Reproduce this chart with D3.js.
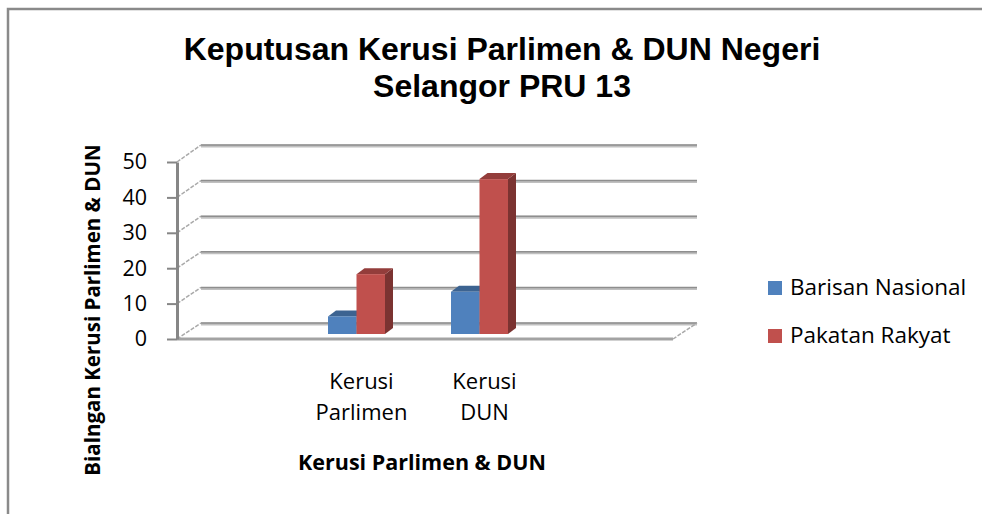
<!DOCTYPE html>
<html>
<head>
<meta charset="utf-8">
<script src="https://cdn.jsdelivr.net/npm/d3@7"></script>
<style>
  body { margin: 0; background: #fff; overflow: hidden; }
  svg { display: block; }
</style>
</head>
<body>
<div id="chart"></div>
<script>
// data (the source sheet had an empty column on each side)
const categories = ["", "Kerusi Parlimen", "Kerusi DUN", ""];
const seriesNames = ["Barisan Nasional", "Pakatan Rakyat"];
const barisanNasional = [null, 5, 12, null];
const pakatanRakyat = [null, 17, 44, null];
const yTicks = [0, 10, 20, 30, 40, 50];
const colors = ["#4F81BD", "#C0504D"];

const W = 982, H = 514;
const font = "'Open Sans', 'Noto Sans', sans-serif";

const svg = d3.select("#chart").append("svg")
    .attr("width", W)
    .attr("height", H);

// chart border (only left and top edges fall inside the picture)
svg.append("path")
    .attr("d", "M8," + H + "V9H" + W)
    .attr("fill", "none")
    .attr("stroke", "#8a8a8a")
    .attr("stroke-width", 2.5);

// title
svg.append("text")
    .attr("x", 502).attr("y", 60)
    .attr("text-anchor", "middle")
    .style("font-family", "'Liberation Sans', Arial, sans-serif")
    .style("font-weight", "bold")
    .style("font-size", "32px")
    .text("Keputusan Kerusi Parlimen & DUN Negeri");
svg.append("text")
    .attr("x", 502).attr("y", 97)
    .attr("text-anchor", "middle")
    .style("font-family", "'Liberation Sans', Arial, sans-serif")
    .style("font-weight", "bold")
    .style("font-size", "32px")
    .text("Selangor PRU 13");

// pseudo 3d: front plane, back wall and the plane the bars stand on
const depth = { dx: 24, dy: -16 };
const yFront = d3.scaleLinear().domain([0, 50]).range([339, 162]);
const yBack = d3.scaleLinear().domain([0, 50]).range([339 + depth.dy, 162 + depth.dy - 1]);
const yBar = d3.scaleLinear().domain([0, 50]).range([334, 158]);

const x = d3.scaleBand()
    .domain(d3.range(categories.length))
    .range([177, 669]);

const xSub = d3.scaleBand()
    .domain(seriesNames)
    .range([0, 57]);

const x0 = 177, x1 = 673;

// back wall gridlines
const grid = svg.append("g");
grid.selectAll(".gl")
    .data(yTicks)
    .enter()
    .append("line")
    .attr("x1", x0 + depth.dx).attr("x2", x1 + depth.dx)
    .attr("y1", d => yBack(d) + 1).attr("y2", d => yBack(d) + 1)
    .attr("stroke", "#c0c0c0")
    .attr("stroke-width", 3);
grid.selectAll(".gd")
    .data(yTicks)
    .enter()
    .append("line")
    .attr("x1", x0 + depth.dx).attr("x2", x1 + depth.dx)
    .attr("y1", d => yBack(d)).attr("y2", d => yBack(d))
    .attr("stroke", "#8e8e8e")
    .attr("stroke-width", 1.5);

// side wall gridlines
grid.selectAll(".sd")
    .data(yTicks)
    .enter()
    .append("line")
    .attr("x1", x0).attr("y1", d => yFront(d))
    .attr("x2", x0 + depth.dx).attr("y2", d => yBack(d))
    .attr("stroke", "#a9a9a9")
    .attr("stroke-width", 1.5)
    .attr("stroke-dasharray", "4,1.5");

// floor front and right edge
grid.append("line")
    .attr("x1", x0).attr("x2", x1)
    .attr("y1", yFront(0)).attr("y2", yFront(0))
    .attr("stroke", "#a3a3a3")
    .attr("stroke-width", 3);
grid.append("line")
    .attr("x1", x1).attr("y1", yFront(0))
    .attr("x2", x1 + depth.dx).attr("y2", yBack(0))
    .attr("stroke", "#a9a9a9")
    .attr("stroke-width", 1.5)
    .attr("stroke-dasharray", "4,1.5");

// bars
const bd = { dx: 8, dy: -6 };
const rows = [];
categories.forEach(function (c, i) {
    [barisanNasional, pakatanRakyat].forEach(function (s, k) {
        if (s[i] != null) rows.push({ i: i, k: k, value: s[i] });
    });
});

function barPos(d) {
    let left = x(d.i) + x.bandwidth() / 2 - 5 - xSub.bandwidth() + xSub(seriesNames[d.k]);
    return {
        l: left,
        r: left + xSub.bandwidth(),
        t: yBar(d.value),
        b: yBar(0)
    };
}

const bars = svg.append("g").selectAll("g")
    .data(rows)
    .enter()
    .append("g");

bars.append("path")
    .attr("d", function (d) {
        let p = barPos(d);
        return "M" + p.r + "," + p.t + "L" + (p.r + bd.dx) + "," + (p.t + bd.dy) +
            "L" + (p.r + bd.dx) + "," + (p.b + bd.dy) + "L" + p.r + "," + p.b + "Z";
    })
    .attr("fill", d => d3.color(colors[d.k]).darker(1.25));

bars.append("path")
    .attr("d", function (d) {
        let p = barPos(d);
        return "M" + p.l + "," + p.t + "L" + (p.l + bd.dx) + "," + (p.t + bd.dy) +
            "L" + (p.r + bd.dx) + "," + (p.t + bd.dy) + "L" + p.r + "," + p.t + "Z";
    })
    .attr("fill", d => d3.color(colors[d.k]).darker(0.75));

bars.append("rect")
    .attr("x", d => barPos(d).l)
    .attr("y", d => barPos(d).t)
    .attr("width", xSub.bandwidth())
    .attr("height", d => yBar(0) - yBar(d.value))
    .attr("fill", d => colors[d.k]);

// y axis
const yAxis = svg.append("g")
    .attr("transform", "translate(" + x0 + ",0)")
    .call(d3.axisLeft(yFront).tickValues(yTicks).tickSize(10).tickSizeOuter(0).tickPadding(20));
yAxis.select(".domain").attr("stroke", "#868686").attr("stroke-width", 3);
yAxis.selectAll(".tick line").attr("stroke", "#868686").attr("stroke-width", 2);
yAxis.selectAll(".tick text")
    .style("font-family", font)
    .style("font-size", "21.5px")
    .attr("fill", "#000");

// category labels
const catLabels = svg.append("g").selectAll("text")
    .data(categories.map((c, i) => ({ c: c, i: i })).filter(d => d.c))
    .enter()
    .append("text")
    .attr("text-anchor", "middle")
    .style("font-family", font)
    .style("font-size", "22px");
catLabels.each(function (d) {
    let words = d.c.split(" ");
    let t = d3.select(this);
    words.forEach(function (w, j) {
        t.append("tspan")
            .attr("x", x(d.i) + x.bandwidth() / 2)
            .attr("y", 389 + j * 31)
            .text(w);
    });
});

// axis titles
svg.append("text")
    .attr("x", 422).attr("y", 470)
    .attr("text-anchor", "middle")
    .style("font-family", font)
    .style("font-weight", "bold")
    .style("font-size", "21.5px")
    .text("Kerusi Parlimen & DUN");

svg.append("text")
    .attr("transform", "translate(100,310) rotate(-90)")
    .attr("text-anchor", "middle")
    .style("font-family", font)
    .style("font-weight", "bold")
    .style("font-size", "20.5px")
    .text("Bialngan Kerusi Parlimen & DUN");

// legend
const legend = svg.append("g").selectAll("g")
    .data(seriesNames)
    .enter()
    .append("g")
    .attr("transform", (d, i) => "translate(768," + (281 + i * 48) + ")");
legend.append("rect")
    .attr("width", 14).attr("height", 14)
    .attr("fill", (d, i) => colors[i]);
legend.append("text")
    .attr("x", 22).attr("y", 14)
    .style("font-family", font)
    .style("font-size", "22.5px")
    .text(d => d);
</script>
</body>
</html>
